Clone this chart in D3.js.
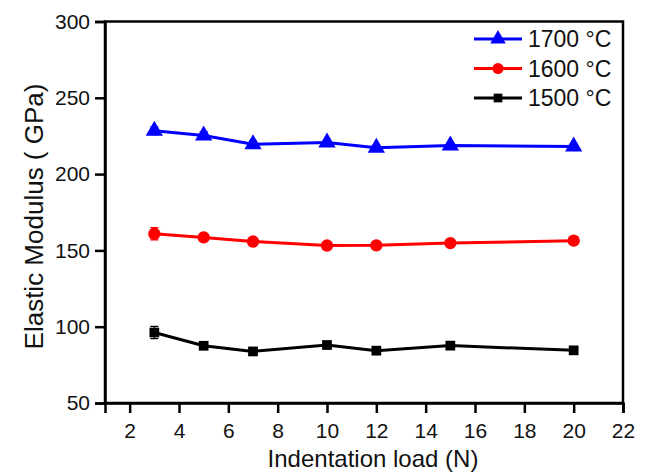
<!DOCTYPE html>
<html>
<head>
<meta charset="utf-8">
<script src="https://cdn.jsdelivr.net/npm/d3@7"></script>
<style>
  body { margin: 0; background: #fff; }
  text { font-family: "Liberation Sans", Arial, sans-serif; }
</style>
</head>
<body>
<div id="chart"></div>
<script>
// data
const loads = [3, 5, 7, 10, 12, 15, 20]
const modulus1700 = [228.4, 225.3, 219.6, 220.7, 217.3, 218.8, 218.1]
const modulus1600 = [160.9, 158.5, 155.8, 153.2, 153.3, 154.8, 156.4]
const modulus1500 = [96.2, 87.5, 83.8, 88.0, 84.3, 87.6, 84.5]
const err1700 = [2.5, 2.5, 2, 1.5, 1.5, 1.5, 1.5]
const err1600 = [4, 2, 1.5, 1.5, 1.5, 1.5, 1.5]
const err1500 = [4, 1.5, 1.5, 1.5, 1.5, 1.5, 1.5]
const xTicks = [2, 4, 6, 8, 10, 12, 14, 16, 18, 20, 22]
const yTicks = [50, 100, 150, 200, 250, 300]

const series = [
    { name: '1700 °C', values: modulus1700, errs: err1700, color: '#0000ff', shape: d3.symbolTriangle, size: 130 },
    { name: '1600 °C', values: modulus1600, errs: err1600, color: '#ff0000', shape: d3.symbolCircle, size: 120 },
    { name: '1500 °C', values: modulus1500, errs: err1500, color: '#000000', shape: d3.symbolSquare, size: 95 }
]

const W = 650, H = 474
const margin = { top: 21.5, right: 27, bottom: 71, left: 105 }
const width = W - margin.left - margin.right
const height = H - margin.top - margin.bottom

const x = d3.scaleLinear().domain([1, 22]).range([0, width])
const y = d3.scaleLinear().domain([50, 300]).range([height, 0])

const svg = d3.select('#chart').append('svg')
    .attr('width', W)
    .attr('height', H)

const g = svg.append('g')
    .attr('transform', 'translate(' + margin.left + ',' + margin.top + ')')

// frame
g.append('rect')
    .attr('width', width)
    .attr('height', height)
    .attr('fill', 'none')
    .attr('stroke', '#000')
    .attr('stroke-width', 2.5)

// axes
const xAxis = g.append('g')
    .attr('transform', 'translate(0,' + height + ')')
    .call(d3.axisBottom(x).tickValues(xTicks).tickSize(10).tickPadding(10))
const yAxis = g.append('g')
    .call(d3.axisLeft(y).tickValues(yTicks).tickSize(10).tickPadding(5))

for (const ax of [xAxis, yAxis]) {
    ax.select('.domain').attr('stroke-width', 2.5)
    ax.selectAll('.tick line').attr('stroke-width', 2.5)
    ax.selectAll('.tick text')
        .attr('font-size', 21)
        .attr('fill', '#111')
}

// axis titles
svg.append('text')
    .attr('x', 373)
    .attr('y', 467)
    .attr('text-anchor', 'middle')
    .attr('font-size', 24)
    .attr('fill', '#111')
    .text('Indentation load (N)')

svg.append('text')
    .attr('transform', 'translate(43,216.5) rotate(-90)')
    .attr('text-anchor', 'middle')
    .attr('font-size', 26)
    .attr('fill', '#111')
    .text('Elastic Modulus ( GPa)')

const line = d3.line()
    .x((d, i) => x(loads[i]))
    .y(d => y(d))

for (const s of series) {
    const sg = g.append('g')

    // error bars
    sg.selectAll('.err')
        .data(s.values)
        .enter().append('path')
        .attr('d', (d, i) => {
            const cx = x(loads[i]), y0 = y(d - s.errs[i]), y1 = y(d + s.errs[i])
            return 'M' + (cx - 4) + ',' + y0 + 'H' + (cx + 4) + 'M' + cx + ',' + y0 + 'V' + y1 + 'M' + (cx - 4) + ',' + y1 + 'H' + (cx + 4)
        })
        .attr('stroke', s.color)
        .attr('stroke-width', 1.2)
        .attr('fill', 'none')

    sg.append('path')
        .datum(s.values)
        .attr('d', line)
        .attr('fill', 'none')
        .attr('stroke', s.color)
        .attr('stroke-width', 3)

    sg.selectAll('.pt')
        .data(s.values)
        .enter().append('path')
        .attr('transform', (d, i) => 'translate(' + x(loads[i]) + ',' + y(d) + ')')
        .attr('d', d3.symbol().type(s.shape).size(s.size))
        .attr('fill', s.color)
}

// legend
const legend = svg.append('g')
series.forEach((s, i) => {
    const ly = 39 + i * 29.5
    legend.append('line')
        .attr('x1', 474).attr('x2', 522)
        .attr('y1', ly).attr('y2', ly)
        .attr('stroke', s.color)
        .attr('stroke-width', 3)
    legend.append('path')
        .attr('transform', 'translate(498,' + ly + ')')
        .attr('d', d3.symbol().type(s.shape).size(s.size * 0.8))
        .attr('fill', s.color)
    legend.append('text')
        .attr('x', 528)
        .attr('y', ly + 8)
        .attr('font-size', 23)
        .attr('fill', '#111')
        .text(s.name)
})
</script>
</body>
</html>
